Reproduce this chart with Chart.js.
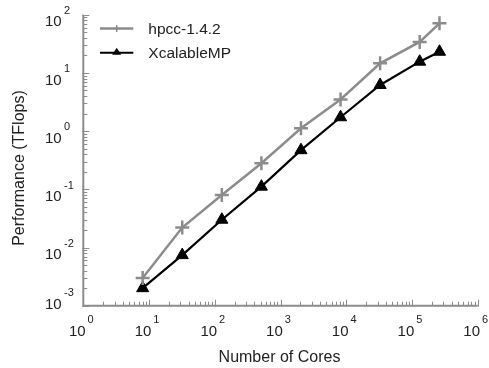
<!DOCTYPE html>
<html>
<head>
<meta charset="utf-8">
<script src="https://cdn.jsdelivr.net/npm/chart.js@4"></script>
<style>
html,body{margin:0;padding:0;background:#fff;}
canvas{display:block;}
</style>
</head>
<body>
<canvas id="c" width="489" height="368"></canvas>
<script>
const cores = [8, 32, 128, 512, 2048, 8192, 32768, 131072, 262144];
const hpccValues = [0.0030, 0.022, 0.080, 0.28, 1.12, 3.5, 14.6, 34, 71];
const xmpValues = [0.0020, 0.0074, 0.030, 0.111, 0.47, 1.73, 6.2, 15.6, 23.1];
const seriesNames = ['hpcc-1.4.2', 'XcalableMP'];
const xExponents = [0, 1, 2, 3, 4, 5, 6];
const yExponents = [-3, -2, -1, 0, 1, 2];
const xTitle = 'Number of Cores';
const yTitle = 'Performance (TFlops)';

const AXIS = '#8c8c8c';
const GRAY = '#8c8c8c';
const TEXT = '#222';
const FONT = '"Liberation Sans", Arial, sans-serif';

const toPts = (xs, ys) => xs.map((x, i) => ({x: x, y: ys[i]}));

const axesPlugin = {
  id: 'axesPlugin',
  beforeDatasetsDraw(chart) {
    const ctx = chart.ctx, a = chart.chartArea;
    const xs = chart.scales.x, ys = chart.scales.y;
    ctx.save();
    ctx.strokeStyle = AXIS;
    ctx.lineWidth = 2;
    ctx.beginPath();
    ctx.moveTo(a.left, a.top);
    ctx.lineTo(a.left, a.bottom);
    ctx.lineTo(a.right, a.bottom);
    ctx.stroke();
    ctx.lineWidth = 1;
    ctx.beginPath();
    for (let e = xExponents[0]; e <= xExponents[xExponents.length - 1]; e++) {
      const px = Math.round(xs.getPixelForValue(Math.pow(10, e))) + 0.5;
      ctx.moveTo(px, a.bottom + 1); ctx.lineTo(px, a.bottom - 6);
      if (e < xExponents[xExponents.length - 1]) {
        for (let m = 2; m <= 9; m++) {
          const p = Math.round(xs.getPixelForValue(m * Math.pow(10, e))) + 0.5;
          ctx.moveTo(p, a.bottom); ctx.lineTo(p, a.bottom - 4);
        }
      }
    }
    for (let e = yExponents[0]; e <= yExponents[yExponents.length - 1]; e++) {
      const py = Math.round(ys.getPixelForValue(Math.pow(10, e))) + 0.5;
      ctx.moveTo(a.left - 1, py); ctx.lineTo(a.left + 6, py);
      if (e < yExponents[yExponents.length - 1]) {
        for (let m = 2; m <= 9; m++) {
          const p = Math.round(ys.getPixelForValue(m * Math.pow(10, e))) + 0.5;
          ctx.moveTo(a.left, p); ctx.lineTo(a.left + 4, p);
        }
      }
    }
    ctx.stroke();
    ctx.restore();
  },
  afterDraw(chart) {
    const ctx = chart.ctx, a = chart.chartArea;
    const xs = chart.scales.x, ys = chart.scales.y;
    ctx.save();
    ctx.fillStyle = TEXT;
    const big = '15px ' + FONT, small = '11px ' + FONT;
    xExponents.forEach(e => {
      const px = xs.getPixelForValue(Math.pow(10, e));
      const base = a.bottom + 30;
      ctx.font = big; ctx.textAlign = 'right'; ctx.textBaseline = 'alphabetic';
      ctx.fillText('10', px + 2.3, base);
      ctx.font = small; ctx.textAlign = 'left';
      ctx.fillText(String(e), px + 4.3, base - 12.5);
    });
    yExponents.forEach((e, i) => {
      const py = ys.getPixelForValue(Math.pow(10, e));
      const c = (i === 0) ? py - 2.4 : py + 6.3;
      const base = c + 5.4;
      ctx.font = big; ctx.textAlign = 'right'; ctx.textBaseline = 'alphabetic';
      ctx.fillText('10', 61.7, base);
      ctx.font = small; ctx.textAlign = 'left';
      ctx.fillText(String(e), 64, base - 12.5);
    });
    ctx.font = '16px ' + FONT;
    ctx.textAlign = 'center'; ctx.textBaseline = 'middle';
    ctx.fillText(xTitle, (a.left + a.right) / 2 - 1, 358);
    ctx.save();
    ctx.translate(20, 168);
    ctx.rotate(-Math.PI / 2);
    ctx.fillText(yTitle, 0, 0);
    ctx.restore();
    const legend = [
      {name: seriesNames[0], color: GRAY, lw: 2.5, y: 28.5, style: 'cross'},
      {name: seriesNames[1], color: '#000', lw: 2, y: 52.7, style: 'triangle'}
    ];
    legend.forEach(l => {
      ctx.strokeStyle = l.color; ctx.lineWidth = l.lw;
      ctx.beginPath(); ctx.moveTo(100, l.y); ctx.lineTo(133.3, l.y); ctx.stroke();
      const cx = 116.7;
      if (l.style === 'cross') {
        ctx.lineWidth = 1.5;
        ctx.beginPath();
        ctx.moveTo(cx, l.y - 3.5); ctx.lineTo(cx, l.y + 3.5);
        ctx.moveTo(cx - 3.5, l.y); ctx.lineTo(cx + 3.5, l.y);
        ctx.stroke();
      } else {
        ctx.fillStyle = l.color;
        ctx.beginPath();
        ctx.moveTo(cx, l.y - 5);
        ctx.lineTo(cx + 4.5, l.y + 2);
        ctx.lineTo(cx - 4.5, l.y + 2);
        ctx.closePath(); ctx.fill();
      }
      ctx.fillStyle = TEXT;
      ctx.font = '15.5px ' + FONT;
      ctx.textAlign = 'left'; ctx.textBaseline = 'middle';
      ctx.fillText(l.name, 148.3, l.y + 1);
    });
    ctx.restore();
  }
};

new Chart(document.getElementById('c'), {
  type: 'line',
  data: {
    datasets: [
      {
        label: seriesNames[0],
        data: toPts(cores, hpccValues),
        borderColor: GRAY,
        backgroundColor: GRAY,
        borderWidth: 2.5,
        pointStyle: 'cross',
        pointRadius: 7,
        pointBorderWidth: 2.5,
        pointBorderColor: GRAY,
        tension: 0,
        fill: false
      },
      {
        label: seriesNames[1],
        data: toPts(cores, xmpValues),
        borderColor: '#000',
        backgroundColor: '#000',
        borderWidth: 2.2,
        pointStyle: 'triangle',
        pointRadius: 7,
        pointBorderWidth: 1,
        pointBackgroundColor: '#000',
        pointBorderColor: '#000',
        tension: 0,
        fill: false
      }
    ]
  },
  options: {
    responsive: false,
    animation: false,
    devicePixelRatio: 1,
    layout: {padding: {left: 83.3, right: 11.3, top: 14.7, bottom: 62.3}},
    plugins: {legend: {display: false}, tooltip: {enabled: false}},
    scales: {
      x: {
        type: 'logarithmic', min: 1, max: 1e6,
        grid: {display: false, drawTicks: false},
        border: {display: false},
        ticks: {display: false},
        afterFit: s => { s.height = 0; }
      },
      y: {
        type: 'logarithmic', min: 1e-3, max: 1e2,
        grid: {display: false, drawTicks: false},
        border: {display: false},
        ticks: {display: false},
        afterFit: s => { s.width = 0; }
      }
    }
  },
  plugins: [axesPlugin]
});
</script>
</body>
</html>
